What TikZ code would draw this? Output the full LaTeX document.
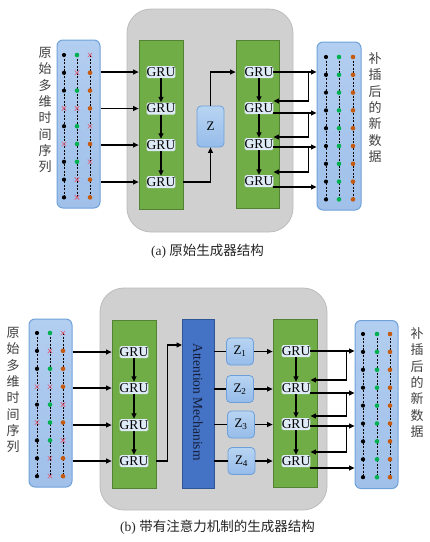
\documentclass[tikz,border=0pt]{standalone}
\usepackage{fontspec}
\setmainfont{Liberation Serif}
\newfontfamily\cjk{Noto Sans CJK SC}
\usetikzlibrary{arrows.meta,calc}
\definecolor{grayfill}{RGB}{208,208,208}
\definecolor{grayedge}{RGB}{188,188,188}
\definecolor{greenfill}{RGB}{112,173,71}
\definecolor{greenedge}{RGB}{84,130,53}
\definecolor{paneltop}{RGB}{178,206,240}
\definecolor{panelbot}{RGB}{160,192,234}
\definecolor{paneledge}{RGB}{112,162,218}
\definecolor{grufill}{RGB}{222,235,247}
\definecolor{ztop}{RGB}{184,212,242}
\definecolor{zbot}{RGB}{150,188,234}
\definecolor{zedge}{RGB}{108,160,218}
\definecolor{attfill}{RGB}{68,114,196}
\definecolor{attedge}{RGB}{47,85,151}
\definecolor{attext}{RGB}{20,28,55}
\definecolor{textgray}{RGB}{64,64,64}
\definecolor{dotgreen}{RGB}{0,176,80}
\definecolor{dotorange}{RGB}{197,90,17}
\definecolor{crossred}{RGB}{226,86,110}
\tikzset{
  graybox/.style={draw=grayedge, fill=grayfill, rounded corners=24pt, line width=0.8pt, inner sep=0},
  greenbox/.style={draw=greenedge, fill=greenfill, line width=0.8pt, minimum width=44pt, minimum height=168pt, inner sep=0},
  datapanel/.style={draw=paneledge, top color=paneltop, bottom color=panelbot, rounded corners=6pt, line width=1pt, minimum width=43pt, minimum height=168pt, inner sep=0},
  grulab/.style={fill=grufill, rounded corners=1.5pt, minimum width=28pt, minimum height=12pt, inner sep=0pt, font=\fontsize{13.5}{13.5}\selectfont},
  zbox/.style={draw=zedge, top color=ztop, bottom color=zbot, rounded corners=4pt, line width=0.8pt, inner sep=0, minimum width=27pt, font=\fontsize{13}{13}\selectfont},
  attbox/.style={draw=attedge, fill=attfill, line width=0.8pt, minimum width=32pt, minimum height=169pt, inner sep=0},
  arr/.style={line width=1.1pt, -{Triangle[length=5.5pt,width=5pt]}},
  plainline/.style={line width=1.1pt},
  vtext/.style={align=center, text=textgray, font=\cjk\fontsize{13}{16.3}\selectfont, inner sep=0},
  captext/.style={font=\fontsize{13.5}{14}\selectfont, inner sep=0, text=black!85},
  dashcol/.style={dash pattern=on 2pt off 1.5pt, line width=0.5pt}
}
\newcommand\mkk[1]{\fill[black] #1 circle[radius=2.1pt];}
\newcommand\mkg[1]{\fill[dotgreen] #1 circle[radius=2.3pt];}
\newcommand\mko[1]{\fill[dotorange] #1 circle[radius=2.3pt];}
\newcommand\mkx[1]{\draw[crossred,line width=0.6pt] #1 +(-2.2,-2.2) -- +(2.2,2.2) #1 +(-2.2,2.2) -- +(2.2,-2.2);}
\newcommand\panelmarks[6]{%
  \foreach \xx in {#1,#2,#3} {\draw[dashcol] (\xx,#4) -- (\xx,{#4+8*#5});}
  \foreach \a/\b/\c [count=\r from 0] in {#6} {
    \csname mk\a\endcsname{(#1,{#4+#5*\r})}
    \csname mk\b\endcsname{(#2,{#4+#5*\r})}
    \csname mk\c\endcsname{(#3,{#4+#5*\r})}
  }}
\begin{document}
\begin{tikzpicture}[x=1pt,y=-1pt]
\useasboundingbox (0,0) rectangle (430,542);
\fill[white] (0,0) rectangle (430,542);

% ================= (a) =================
\node[graybox, minimum width=166pt, minimum height=223pt] (grayA) at (210,120.5) {};
\node[greenbox, minimum height=169pt] (GA1) at (161,124.5) {};
\node[greenbox, minimum width=43pt] (GA2) at (257.5,124) {};
\node[datapanel] (pLa) at (78.5,124) {};
\node[datapanel, minimum width=44pt] (pRa) at (339,126) {};
\panelmarks{64}{77}{90}{55}{17.8}{k/g/x, k/x/o, k/g/o, x/x/o, k/g/x, x/g/o, k/g/x, k/x/o, k/x/o}
\panelmarks{326}{339}{353}{57}{17.8}{k/g/o, k/g/o, k/g/o, k/g/o, k/g/o, k/g/o, k/g/o, k/g/o, k/g/o}

\node[grulab] (gA1) at (161,72) {GRU};
\node[grulab] (gA2) at (161,108.5) {GRU};
\node[grulab] (gA3) at (161,145) {GRU};
\node[grulab] (gA4) at (161,182) {GRU};
\node[grulab] (gB1) at (259,72) {GRU};
\node[grulab] (gB2) at (259,108) {GRU};
\node[grulab] (gB3) at (259,144) {GRU};
\node[grulab] (gB4) at (259,181) {GRU};
\node[zbox, minimum height=41pt] (zA) at (210.5,126.5) {Z};

\node[vtext] (tLa) at (45,110) {原\\始\\多\\维\\时\\间\\序\\列};
\node[vtext] (tRa) at (375,107.5) {补\\插\\后\\的\\新\\数\\据};
\node[captext] (capA) at (207.5,251) {(a) {\cjk 原始生成器结构}};

\foreach \i in {1,...,4} {\draw[arr] (pLa.east |- gA\i) -- (GA1.west |- gA\i);}
\draw[arr] (gA1.south) -- (gA2.north);
\draw[arr] (gA2.south) -- (gA3.north);
\draw[arr] (gA3.south) -- (gA4.north);
\draw[arr] (gB1.south) -- (gB2.north);
\draw[arr] (gB2.south) -- (gB3.north);
\draw[arr] (gB3.south) -- (gB4.north);
\draw[arr] (GA1.east |- gA4) -| (zA.south);
\draw[arr] (zA.north) |- (GA2.west |- gB1);

\coordinate (vA) at ([xshift=-8pt]pRa.west);
\coordinate (oB1) at (gB1.east);
\coordinate (oB2) at ([yshift=-5pt]gB2.east);
\coordinate (oB3) at ([yshift=-3pt]gB3.east);
\coordinate (oB4) at ([yshift=-6pt]gB4.east);
\coordinate (iB2) at ([yshift=7pt]gB2.east);
\coordinate (iB3) at ([yshift=7pt]gB3.east);
\coordinate (iB4) at ([yshift=9pt]gB4.east);
\foreach \i in {1,...,4} {\draw[arr] (oB\i) -- (pRa.west |- oB\i);}
\draw[arr] (vA |- oB1) -- (vA |- iB2) -- (iB2);
\draw[arr] (vA |- oB2) -- (vA |- iB3) -- (iB3);
\draw[arr] (vA |- oB3) -- (vA |- iB4) -- (iB4);

% ================= (b) =================
\node[graybox, minimum width=227pt, minimum height=222pt] (grayB) at (213.5,399) {};
\node[greenbox] (GC1) at (134,404) {};
\node[greenbox] (GC2) at (295,403.5) {};
\node[attbox] (att) at (198,403.5) {};
\node[rotate=-90, font=\fontsize{13.5}{13.5}\selectfont, text=attext, inner sep=0] (attlab) at (198,402) {Attention Mechanism};
\node[datapanel] (pLb) at (50.5,403) {};
\node[datapanel] (pRb) at (376.5,404.5) {};
\panelmarks{37}{50}{63}{333}{17.9}{k/g/x, k/x/o, k/g/o, x/x/o, k/g/x, x/g/o, k/g/x, k/x/o, k/x/o}
\panelmarks{363}{377}{390}{334}{17.9}{k/g/o, k/g/o, k/g/o, k/g/o, k/g/o, k/g/o, k/g/o, k/g/o, k/g/o}

\node[grulab] (gC1) at (134,352) {GRU};
\node[grulab] (gC2) at (134,388) {GRU};
\node[grulab] (gC3) at (134,425) {GRU};
\node[grulab] (gC4) at (134,461) {GRU};
\node[grulab] (gD1) at (296,351) {GRU};
\node[grulab] (gD2) at (296,388) {GRU};
\node[grulab] (gD3) at (296,424) {GRU};
\node[grulab] (gD4) at (296,461) {GRU};
\node[zbox, minimum height=27pt] (z1) at (240,351.5) {Z\textsubscript{1}};
\node[zbox, minimum height=27pt] (z2) at (240,389) {Z\textsubscript{2}};
\node[zbox, minimum height=27pt] (z3) at (241,424.5) {Z\textsubscript{3}};
\node[zbox, minimum height=27pt] (z4) at (241.5,461) {Z\textsubscript{4}};

\node[vtext] (tLb) at (13,390) {原\\始\\多\\维\\时\\间\\序\\列};
\node[vtext] (tRb) at (417,382.5) {补\\插\\后\\的\\新\\数\\据};
\node[captext] (capB) at (217.5,527) {(b) {\cjk 带有注意力机制的生成器结构}};

\foreach \i in {1,...,4} {\draw[arr] (pLb.east |- gC\i) -- (GC1.west |- gC\i);}
\draw[arr] (gC1.south) -- (gC2.north);
\draw[arr] (gC2.south) -- (gC3.north);
\draw[arr] (gC3.south) -- (gC4.north);
\draw[arr] (gD1.south) -- (gD2.north);
\draw[arr] (gD2.south) -- (gD3.north);
\draw[arr] (gD3.south) -- (gD4.north);
\coordinate (attIn) at (182,345);
\draw[arr] (GC1.east |- gC4) -- ++(11,0) |- (attIn);
\foreach \i in {1,...,4} {
  \draw[plainline] (att.east |- z\i) -- (z\i.west);
  \draw[arr] (z\i.east) -- (GC2.west |- z\i);
}
\coordinate (vB) at ([xshift=-8pt]pRb.west);
\coordinate (oD1) at (gD1.east);
\coordinate (oD2) at ([yshift=-5pt]gD2.east);
\coordinate (oD3) at ([yshift=-2pt]gD3.east);
\coordinate (oD4) at ([yshift=-7pt]gD4.east);
\coordinate (iD2) at ([yshift=8pt]gD2.east);
\coordinate (iD3) at ([yshift=8pt]gD3.east);
\coordinate (iD4) at ([yshift=9pt]gD4.east);
\foreach \i in {1,...,4} {\draw[arr] (oD\i) -- (pRb.west |- oD\i);}
\draw[arr] (vB |- oD1) -- (vB |- iD2) -- (iD2);
\draw[arr] (vB |- oD2) -- (vB |- iD3) -- (iD3);
\draw[arr] (vB |- oD3) -- (vB |- iD4) -- (iD4);
\end{tikzpicture}
\end{document}
